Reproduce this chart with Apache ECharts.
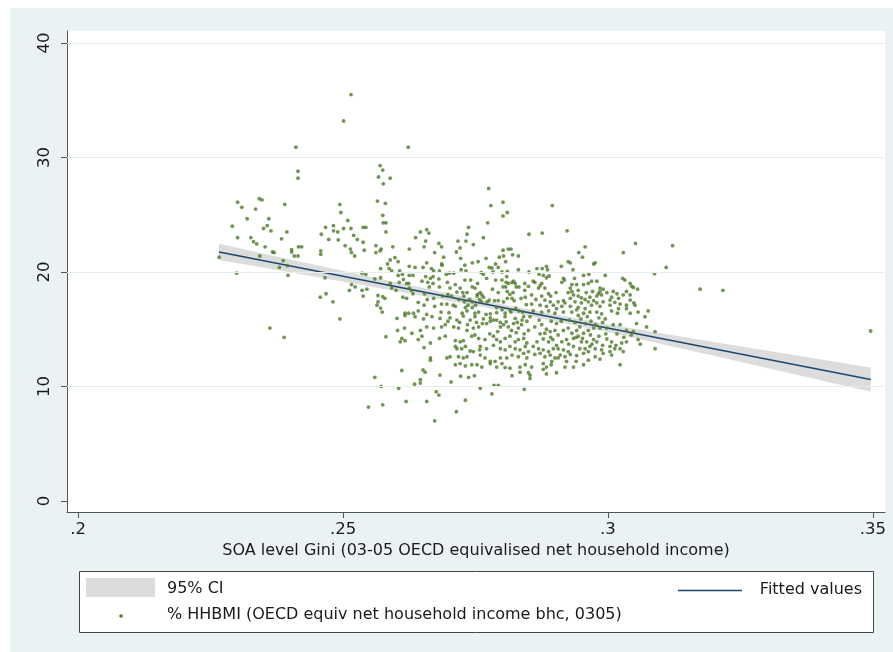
<!DOCTYPE html>
<html>
<head>
<meta charset="utf-8">
<title>SOA level Gini vs % HHBMI</title>
<script src="https://cdn.jsdelivr.net/npm/echarts@6/dist/echarts.min.js"></script>
<style>
  html, body { margin: 0; padding: 0; background: #ffffff; }
  #frame { position: absolute; left: 10px; top: 8px; width: 883px; height: 644px; background: #eaf2f4; }
  #chart { position: absolute; left: 0; top: 0; width: 893px; height: 652px; }
</style>
</head>
<body>
<div id="frame"></div>
<div id="chart"></div>
<script>
// Axis ticks
const xTickValues = [0.2, 0.25, 0.3, 0.35];
const xTickLabels = ['.2', '.25', '.3', '.35'];
const yTickValues = [0, 10, 20, 30, 40];
const yTickLabels = ['0', '10', '20', '30', '40'];
const yGridValues = [10, 20, 30, 40];

// Linear fit of % HHBMI on Gini, with its 95% confidence band
const fitGini = [0.2266, 0.3496];
const fitValues = [21.75, 10.61];
const ciGini = [0.2266, 0.24, 0.26, 0.28, 0.30, 0.32, 0.3496];
const ciLower = [21.05, 19.99, 18.34, 16.64, 14.77, 12.69, 9.55];
const ciUpper = [22.47, 21.09, 19.10, 17.18, 15.43, 13.89, 11.66];

// Super Output Areas: [Gini, % HHBMI]
const hhbmiPoints = [
  [.2515,35.5],[.2501,33.2],[.2411,30.9],[.2623,30.9],[.2415,28.8],[.2415,28.2],[.2570,29.3],[.2575,28.9],[.2567,28.3],[.2589,28.2],
  [.2576,27.7],[.2565,26.2],[.2580,26.0],[.2575,24.95],[.2576,24.3],[.2581,24.3],[.2581,23.5],[.2301,26.1],[.2309,25.65],[.2342,26.4],
  [.2347,26.3],[.2335,25.5],[.2390,25.9],[.2291,24.0],[.2319,24.65],[.2360,24.65],[.2350,23.8],[.2357,24.05],[.2364,23.6],[.2301,23.0],
  [.2326,23.0],[.2331,22.65],[.2337,22.45],[.2353,22.2],[.2394,23.5],[.2384,22.9],[.2416,22.2],[.2422,22.2],[.2403,21.95],[.2403,21.75],
  [.2408,21.4],[.2415,21.4],[.2367,21.75],[.2370,21.7],[.2343,21.4],[.2266,21.3],[.2387,21.0],[.2380,20.4],[.2395,20.55],[.2299,19.9],
  [.2396,19.7],[.2459,23.3],[.2467,23.9],[.2482,24.05],[.2490,23.5],[.2494,25.9],[.2496,25.2],[.2501,23.8],[.2509,24.5],[.2515,23.8],
  [.2482,23.6],[.2473,22.85],[.2491,22.8],[.2520,23.2],[.2527,22.85],[.2538,23.9],[.2543,23.9],[.2504,22.3],[.2514,22.0],[.2516,21.7],
  [.2522,21.4],[.2538,22.6],[.2540,21.9],[.2458,21.85],[.2458,21.55],[.2466,19.5],[.2536,19.9],[.2543,19.8],[.2562,22.3],[.2570,21.85],
  [.2572,22.0],[.2562,21.7],[.2571,20.3],[.2584,20.7],[.2587,20.3],[.2560,19.4],[.2571,19.5],
  [.2457,17.8],[.2468,18.1],[.2481,17.4],[.2494,15.9],[.2362,15.1],[.2389,14.3],[.2516,18.9],[.2523,18.7],[.2512,18.4],[.2536,18.4],
  [.2545,18.5],[.2538,17.9],[.2566,17.95],[.2575,17.85],[.2579,17.7],[.2566,17.4],[.2564,17.1],[.2571,16.85],[.2574,16.5],[.2560,10.8],
  [.2572,10.0],[.2548,8.2],[.2575,8.4],[.2581,14.35],
  [.2775,27.3],[.2802,26.1],[.3122,22.3],[.3174,18.5],[.3217,18.4],[.3496,14.85],
  [.2779,25.8],[.2802,24.9],[.2810,25.2],[.2773,24.3],[.2737,23.9],[.2646,23.5],[.2637,23.0],[.2658,23.7],[.2662,23.4],[.2734,23.3],
  [.2765,23.0],[.2717,22.7],[.2732,22.7],[.2656,22.7],[.2681,22.5],[.2686,22.2],[.2653,22.2],[.2746,22.4],[.2594,22.2],[.2625,22.0],
  [.2721,22.1],[.2812,22.0],[.2817,22.0],[.2802,21.9],[.2851,23.3],[.2673,21.7],[.2714,21.75],[.2831,21.4],[.2820,21.5],[.2803,21.4],
  [.2795,21.3],[.2690,21.3],[.2722,21.2],[.2770,21.2],[.2598,21.25],[.2589,21.05],[.2604,20.9],[.2658,20.8],[.2686,20.7],[.2687,20.6],
  [.2730,20.6],[.2744,20.8],[.2755,20.9],[.2788,20.7],[.2807,20.9],[.2831,20.2],[.2625,20.5],[.2636,20.4],[.2651,20.4],[.2667,20.3],
  [.2671,20.1],[.2682,20.1],[.2701,19.9],[.2732,20.1],[.2723,20.2],[.2776,20.4],[.2781,20.35],[.2793,20.4],[.2783,20.0],[.2800,20.0],
  [.2810,20.05],[.2607,20.1],[.2612,19.8],[.2604,19.7],[.2592,20.1],[.2625,19.7],[.2632,19.7],[.2656,19.6],[.2670,19.6],[.2665,19.45],
  [.2695,19.8],[.2709,19.9],[.2765,19.8],[.2761,19.95],[.2809,19.6],[.2822,19.2],[.2819,19.1],[.2851,20.0],[.2614,19.35],[.2620,19.0],
  [.2624,19.0],[.2649,19.2],[.2660,19.1],[.2681,19.4],[.2730,19.3],[.2741,19.3],[.2771,19.45],[.2788,19.3],[.2800,19.3],[.2808,19.1],
  [.2812,19.0],[.2825,19.0],[.2827,18.7],[.2832,18.7],[.2843,19.0],[.2589,19.0],[.2606,19.1],[.2625,18.6],[.2629,18.4],[.2663,18.7],
  [.2670,19.0],[.2682,18.7],[.2697,19.1],[.2702,18.6],[.2712,18.9],[.2754,19.0],[.2721,18.6],[.2726,18.2],[.2734,18.2],[.2744,18.7],
  [.2749,18.6],[.2759,18.2],[.2754,18.05],[.2762,18.0],[.2753,17.9],[.2765,17.8],[.2782,18.5],[.2793,18.2],[.2802,18.7],[.2807,18.7],
  [.2810,18.3],[.2815,18.05],[.2821,18.2],[.2843,18.4],[.2850,18.75],[.2592,18.6],[.2600,18.4],[.2613,17.8],[.2620,17.7],[.2632,18.1],
  [.2654,18.1],[.2659,17.6],[.2671,17.7],[.2688,17.9],[.2698,18.05],[.2705,17.9],[.2715,18.25],[.2719,17.6],[.2728,17.9],[.2729,17.4],
  [.2739,17.6],[.2744,17.4],[.2758,17.6],[.2761,17.4],[.2772,17.4],[.2776,17.55],[.2786,17.5],[.2793,17.5],[.2803,17.4],[.2810,17.7],
  [.2819,17.7],[.2823,17.5],[.2836,17.7],[.2844,17.8],[.2846,17.15],[.2642,17.35],[.2653,17.1],[.2673,17.0],[.2686,17.2],[.2696,17.2],
  [.2708,17.1],[.2712,17.0],[.2731,16.9],[.2736,17.1],[.2744,16.9],[.2750,17.1],[.2756,16.5],[.2790,16.9],[.2800,16.7],[.2815,16.7],
  [.2826,16.85],[.2832,16.6],[.2839,16.5],[.2617,16.4],[.2624,16.4],[.2633,16.4],[.2642,16.6],[.2658,16.3],[.2685,16.5],[.2700,16.45],
  [.2725,16.4],[.2734,16.6],[.2749,16.4],[.2770,16.3],[.2778,16.35],[.2806,16.4],[.2817,16.5],
  [.2895,25.8],[.2876,23.4],[.2923,23.6],[.2957,22.2],[.2945,21.7],[.2952,21.3],[.3052,22.5],[.3029,21.7],[.3110,20.4],[.3088,19.85],
  [.2925,20.9],[.2929,20.8],[.2976,20.8],[.2973,20.7],[.2912,20.5],[.2934,20.2],[.2866,20.3],[.2876,20.3],[.2884,20.5],[.2886,20.2],
  [.2870,19.8],[.2878,19.7],[.2884,19.5],[.2889,19.65],[.2995,19.7],[.2954,19.7],[.2964,19.8],[.2937,19.45],[.2916,19.45],[.2918,19.3],
  [.2859,19.2],[.2862,19.1],[.2875,19.0],[.2872,18.8],[.2881,18.6],[.2869,18.6],[.2913,19.1],[.2932,18.9],[.2941,18.9],[.2929,18.6],
  [.2944,18.4],[.2954,18.9],[.2963,19.0],[.2969,19.2],[.2979,19.2],[.2985,18.6],[.2991,18.5],[.2971,18.3],[.2959,18.2],[.2985,18.3],
  [.2998,18.2],[.3010,18.3],[.3017,18.1],[.3028,19.45],[.3032,19.3],[.3042,19.0],[.3045,18.75],[.3048,18.65],[.3056,18.5],[.3035,18.3],
  [.3029,18.0],[.3042,18.0],[.2856,18.0],[.2875,17.9],[.2888,18.1],[.2892,17.9],[.2902,18.2],[.2925,18.2],[.2932,18.3],[.2935,18.0],
  [.2944,17.9],[.2950,17.75],[.2957,17.6],[.2966,17.8],[.2979,17.9],[.2982,18.1],[.2988,18.0],[.3007,17.8],[.3020,17.7],[.2864,17.6],
  [.2881,17.55],[.2891,17.4],[.2906,17.4],[.2916,17.5],[.2919,17.3],[.2929,17.7],[.2938,17.4],[.2950,17.3],[.2963,17.4],[.2973,17.5],
  [.2979,17.3],[.2991,17.4],[.3004,17.55],[.3013,17.35],[.3023,17.2],[.3035,17.1],[.3042,17.55],[.3049,17.3],[.2856,17.2],[.2872,17.1],
  [.2884,17.0],[.2897,17.1],[.2903,16.8],[.2913,17.0],[.2929,17.0],[.2944,16.9],[.2957,16.8],[.2969,17.1],[.2985,17.0],[.3004,17.1],
  [.3020,16.8],[.3035,16.8],[.3051,17.1],[.2859,16.6],[.2875,16.5],[.2888,16.6],[.2900,16.4],[.2916,16.5],[.2932,16.5],[.2941,16.7],
  [.2954,16.4],[.2966,16.5],[.2979,16.5],[.2988,16.35],[.3007,16.6],[.3018,16.4],[.3042,16.4],[.3057,16.5],[.3076,16.6],
  [.2602,15.95],[.2617,16.2],[.2636,16.1],[.2652,15.9],[.2668,16.1],[.2683,15.95],[.2702,16.0],[.2715,15.8],[.2727,16.15],[.2740,15.8],
  [.2749,16.1],[.2765,15.9],[.2778,16.0],[.2790,15.8],[.2806,16.1],[.2825,15.95],[.2841,16.1],[.2847,15.7],[.2603,14.9],[.2616,15.1],
  [.2630,14.65],[.2646,14.9],[.2658,15.2],[.2671,15.1],[.2686,15.2],[.2693,15.4],[.2709,15.2],[.2718,15.1],[.2734,14.9],[.2746,15.1],
  [.2756,15.2],[.2771,15.5],[.2778,15.7],[.2784,15.8],[.2797,15.2],[.2803,15.4],[.2812,15.2],[.2822,15.5],[.2831,15.1],[.2837,15.4],
  [.2850,14.9],[.2611,14.2],[.2617,14.0],[.2608,13.9],[.2642,14.1],[.2649,14.4],[.2665,13.8],[.2682,14.2],[.2693,14.4],[.2712,14.0],
  [.2721,13.9],[.2727,14.0],[.2743,14.4],[.2756,14.2],[.2749,14.5],[.2768,14.1],[.2784,14.4],[.2790,14.1],[.2797,13.9],[.2806,14.2],
  [.2815,14.4],[.2825,13.9],[.2831,14.1],[.2841,14.2],[.2847,13.8],[.2653,13.4],[.2712,13.5],[.2715,13.3],[.2724,13.3],[.2731,13.5],
  [.2740,13.1],[.2759,13.5],[.2758,13.2],[.2771,13.3],[.2784,13.6],[.2797,13.3],[.2806,13.2],[.2815,13.5],[.2825,13.3],[.2834,13.2],
  [.2844,13.5],[.2850,13.05],[.2665,12.5],[.2665,12.3],[.2696,12.5],[.2702,12.6],[.2718,12.6],[.2727,12.5],[.2734,12.6],[.2746,13.05],
  [.2759,12.75],[.2768,12.5],[.2778,12.2],[.2787,12.2],[.2797,12.5],[.2809,12.5],[.2819,12.75],[.2831,12.6],[.2841,12.9],[.2847,12.5],
  [.2712,11.9],[.2721,12.0],[.2731,11.8],[.2743,11.9],[.2753,11.9],[.2762,11.7],[.2778,12.0],[.2800,12.0],[.2806,11.65],[.2815,11.6],
  [.2834,11.7],[.2844,11.9],[.2611,11.4],[.2651,11.45],[.2655,11.25],[.2683,11.0],[.2722,10.9],[.2737,10.8],[.2748,10.95],[.2790,11.7],
  [.2819,10.95],[.2834,11.25],[.2850,11.2],[.2646,10.6],[.2646,10.3],[.2635,10.2],[.2704,10.4],[.2605,9.85],[.2676,9.55],[.2681,9.25],
  [.2759,9.85],[.2781,9.35],[.2785,10.1],[.2793,10.1],[.2619,8.7],[.2658,8.7],[.2731,8.8],[.2714,7.8],[.2673,7.0],[.2842,9.75],
  [.2853,16.1],[.2862,15.2],[.2875,15.4],[.2884,15.0],[.2881,14.65],[.2891,14.8],[.2900,14.9],[.2906,14.5],[.2916,14.9],[.2925,15.1],
  [.2932,14.65],[.2941,14.9],[.2947,15.2],[.2954,14.65],[.2963,14.9],[.2973,15.1],[.2985,15.1],[.2998,15.1],[.3010,15.4],[.3023,15.4],
  [.3035,14.9],[.3048,14.8],[.3054,15.5],[.3070,16.1],[.3073,15.2],[.3089,14.8],[.2866,13.9],[.2878,14.15],[.2888,13.9],[.2896,14.1],
  [.2903,13.6],[.2913,13.9],[.2922,14.1],[.2935,14.2],[.2944,14.4],[.2950,13.9],[.2960,13.9],[.2973,14.1],[.2979,13.9],[.2998,14.15],
  [.3007,13.9],[.3026,13.8],[.3035,13.9],[.3061,13.7],[.3057,14.1],[.2859,13.5],[.2869,13.3],[.2878,13.2],[.2888,13.05],[.2897,13.3],
  [.2906,13.3],[.2916,13.2],[.2925,13.05],[.2935,13.5],[.2947,13.3],[.2957,13.3],[.2966,13.5],[.2976,13.3],[.2988,13.2],[.3004,13.5],
  [.3013,13.3],[.3023,13.3],[.3089,13.3],[.2862,12.8],[.2872,12.9],[.2881,12.6],[.2891,12.75],[.2900,12.5],[.2910,12.75],[.2919,12.6],
  [.2929,12.8],[.2941,12.7],[.2954,12.9],[.2963,13.05],[.2976,12.6],[.2991,12.9],[.3004,13.05],[.3007,12.75],[.3029,13.05],[.2856,11.7],
  [.2878,12.0],[.2884,11.7],[.2894,12.2],[.2906,12.5],[.2922,12.2],[.2935,11.7],[.2954,11.9],[.3023,11.9],[.2853,11.0],[.2878,11.5],
  [.2884,11.1],[.2903,11.2],[.2919,11.7],[.2853,10.7],
  [.2927,15.8],[.2938,15.6],[.2949,15.9],[.2958,15.5],[.2968,15.7],[.2977,15.4],[.2990,15.6],[.2944,16.2],[.2961,16.1],[.2983,16.0],
  [.2995,15.9],[.2912,15.7],[.2903,15.5],[.2893,15.7],[.2870,15.8],[.2940,14.3],[.2952,14.2],[.2967,14.5],[.2983,14.4],[.2996,14.6],
  [.3017,14.6],[.3030,14.3],[.3044,14.5],[.2892,14.3],[.2872,14.6],[.2926,13.7],[.2970,13.7],[.2990,13.6],[.3015,13.6],[.2963,12.3],
  [.2985,12.4],[.2893,11.9],[.2940,12.2],[.2790,16.45],[.2797,15.6],[.2808,15.65],[.2829,15.6],[.2838,15.8],[.2763,15.5],[.2752,15.6],
  [.2735,15.4],[.2720,15.6],[.2698,15.7],[.2842,14.6],[.2827,14.7],[.2818,14.9],[.2792,14.8],[.2777,14.6]
];

const FONT = '"DejaVu Sans", Verdana, sans-serif';
const TEXT = '#1a1a1a';
const AXIS = '#555555';
const NAVY = '#1a476f';
const GREEN = '#4d7a2b';
const BAND = '#dcdcdc';

function pickLabel(values, labels) {
  return v => {
    const i = values.findIndex(t => Math.abs(t - v) < 1e-9);
    return i >= 0 ? labels[i] : '';
  };
}

const chart = echarts.init(document.getElementById('chart'), null, { renderer: 'canvas' });

chart.setOption({
  backgroundColor: 'transparent',
  animation: false,
  grid: { left: 67, top: 31, width: 818, height: 481, show: true, backgroundColor: '#ffffff', borderWidth: 0 },
  xAxis: {
    type: 'value', min: 0.1979, max: 0.3523,
    axisLine: { show: true, onZero: false, lineStyle: { color: AXIS, width: 1 } },
    axisTick: { show: true, customValues: xTickValues, length: 6, lineStyle: { color: AXIS } },
    axisLabel: { customValues: xTickValues, formatter: pickLabel(xTickValues, xTickLabels),
                 fontSize: 16.5, color: TEXT, margin: 9, fontFamily: FONT },
    splitLine: { show: false },
    name: 'SOA level Gini (03-05 OECD equivalised net household income)',
    nameLocation: 'middle', nameGap: 29,
    nameTextStyle: { fontSize: 16, color: TEXT, fontFamily: FONT, verticalAlign: 'top' }
  },
  yAxis: {
    type: 'value', min: -0.96, max: 41.05,
    axisLine: { show: true, onZero: false, lineStyle: { color: AXIS, width: 1 } },
    axisTick: { show: true, customValues: yTickValues, length: 6, lineStyle: { color: AXIS } },
    axisLabel: { customValues: yTickValues, formatter: pickLabel(yTickValues, yTickLabels),
                 rotate: 90, fontSize: 16.5, color: TEXT, margin: 14, fontFamily: FONT },
    splitLine: { show: false }
  },
  series: [
    {
      // carries the horizontal grid lines, drawn beneath everything else
      name: 'grid', type: 'line', symbol: 'none', silent: true, z: 0,
      data: ciGini.map((g, i) => [g, ciLower[i]]),
      lineStyle: { opacity: 0 },
      markLine: {
        silent: true, symbol: 'none', label: { show: false },
        lineStyle: { color: '#e6edef', type: 'solid', width: 1 },
        data: yGridValues.map(v => ({ yAxis: v }))
      }
    },
    {
      name: '95% CI', type: 'custom', silent: true, z: 1,
      data: ciGini.map((g, i) => [g, ciLower[i], ciUpper[i]]),
      encode: { x: 0, y: [1, 2] },
      renderItem: (params, api) => {
        if (params.dataIndex !== 0) return null;
        const upper = ciGini.map((g, i) => api.coord([g, ciUpper[i]]));
        const lower = ciGini.map((g, i) => api.coord([g, ciLower[i]])).reverse();
        return { type: 'polygon', shape: { points: upper.concat(lower) }, style: { fill: BAND } };
      }
    },
    {
      name: 'Fitted values', type: 'line', symbol: 'none', z: 3,
      data: fitGini.map((g, i) => [g, fitValues[i]]),
      lineStyle: { color: NAVY, width: 1.4 }
    },
    {
      name: '% HHBMI (OECD equiv net household income bhc, 0305)', type: 'scatter', z: 4,
      data: hhbmiPoints, symbol: 'circle', symbolSize: 3.8,
      itemStyle: { color: GREEN }
    }
  ],
  graphic: [
    { type: 'rect', left: 79, top: 571, shape: { width: 794, height: 61 },
      style: { fill: '#ffffff', stroke: '#444444', lineWidth: 1 }, z: 10 },
    { type: 'rect', left: 86, top: 578, shape: { width: 69, height: 19 },
      style: { fill: BAND }, z: 11 },
    { type: 'text', left: 167, top: 581, style: { text: '95% CI', fill: TEXT, font: '16px ' + FONT }, z: 11 },
    { type: 'line', shape: { x1: 678, y1: 590.5, x2: 742, y2: 590.5 },
      style: { stroke: NAVY, lineWidth: 1.4 }, z: 11 },
    { type: 'text', right: 893 - 862, top: 582, style: { text: 'Fitted values', fill: TEXT, font: '16px ' + FONT }, z: 11 },
    { type: 'circle', shape: { cx: 121, cy: 616, r: 1.8 }, style: { fill: GREEN }, z: 11 },
    { type: 'text', left: 167, top: 607, style: { text: '% HHBMI (OECD equiv net household income bhc, 0305)', fill: TEXT, font: '16px ' + FONT }, z: 11 }
  ]
});
</script>
</body>
</html>
